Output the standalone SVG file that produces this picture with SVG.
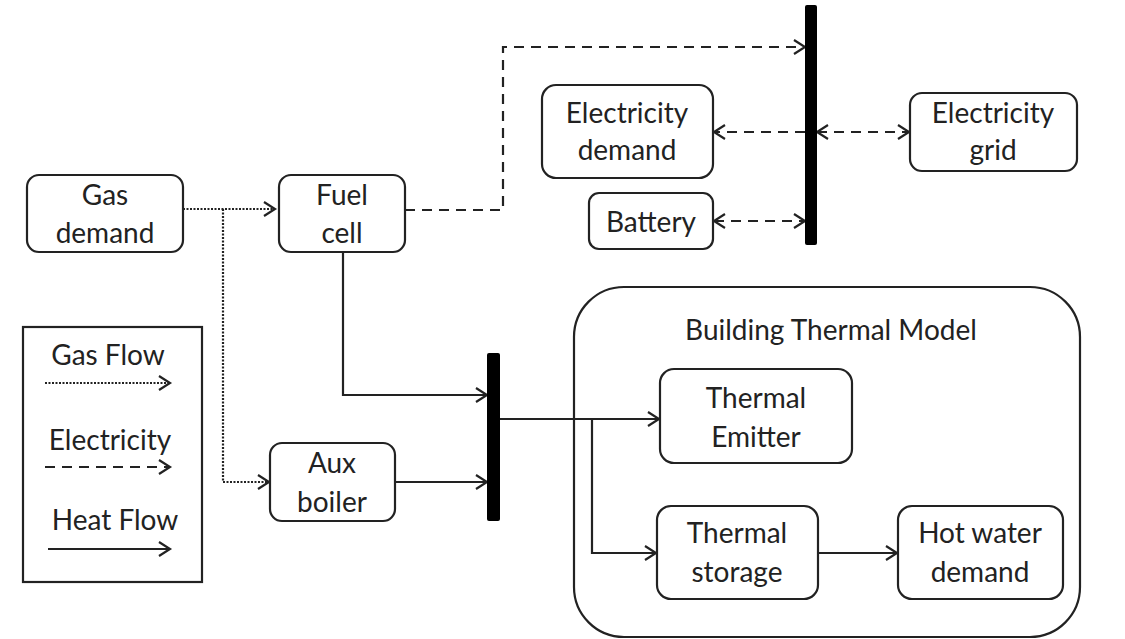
<svg xmlns="http://www.w3.org/2000/svg" width="1125" height="639" viewBox="0 0 1125 639">
<defs>
<style>
.box{fill:#fff;stroke:#222;stroke-width:2.2}
.t{font-family:Lato,"Open Sans","Liberation Sans",sans-serif;font-size:28px;fill:#222;text-anchor:middle}
.ln{fill:none;stroke:#222;stroke-width:2.2}
.gas{stroke-dasharray:2,1.5}
.el{stroke-dasharray:10,7}
.bus{fill:#000}
</style>
<marker id="ah" markerUnits="userSpaceOnUse" markerWidth="16" markerHeight="18" refX="13" refY="9" orient="auto-start-reverse">
<path d="M2,2 L13,9 L2,16" fill="none" stroke="#222" stroke-width="2.2"/>
</marker>
</defs>
<rect width="1125" height="639" fill="#fff"/>

<g id="building">
<rect class="box" x="574" y="287" width="506" height="350" rx="50"/>
<text class="t" x="831" y="340">Building Thermal Model</text>
</g>

<g id="connectors">
<path class="ln gas" d="M183,209 L275,209" marker-end="url(#ah)"/>
<path class="ln gas" d="M223,209 L223,482 L269,482" marker-end="url(#ah)"/>
<path class="ln el" d="M405,210 L503,210 L503,47 L805,47" marker-end="url(#ah)"/>
<path class="ln el" d="M805,132 L714,132" marker-end="url(#ah)"/>
<path class="ln el" d="M817,132 L909,132" marker-start="url(#ah)" marker-end="url(#ah)"/>
<path class="ln el" d="M714,221 L805,221" marker-start="url(#ah)" marker-end="url(#ah)"/>
<path class="ln" d="M343,252 L343,395 L487,395" marker-end="url(#ah)"/>
<path class="ln" d="M395,482 L487,482" marker-end="url(#ah)"/>
<path class="ln" d="M500,419 L659,419" marker-end="url(#ah)"/>
<path class="ln" d="M592,419 L592,553 L656,553" marker-end="url(#ah)"/>
<path class="ln" d="M818,553 L897,553" marker-end="url(#ah)"/>
</g>

<g id="elec-bus"><rect class="bus" x="805" y="5" width="12" height="240" rx="2"/></g>
<g id="heat-bus"><rect class="bus" x="487" y="353" width="13" height="168" rx="2"/></g>

<g id="gas-demand">
<rect class="box" x="27" y="175" width="156" height="77" rx="12"/>
<text class="t" x="105" y="205">Gas</text>
<text class="t" x="105" y="243">demand</text>
</g>
<g id="fuel-cell">
<rect class="box" x="279" y="175" width="126" height="77" rx="12"/>
<text class="t" x="342" y="205">Fuel</text>
<text class="t" x="342" y="243">cell</text>
</g>
<g id="aux-boiler">
<rect class="box" x="270" y="443" width="125" height="78" rx="12"/>
<text class="t" x="332" y="473">Aux</text>
<text class="t" x="332" y="512">boiler</text>
</g>
<g id="electricity-demand">
<rect class="box" x="542" y="85" width="171" height="93" rx="14"/>
<text class="t" x="627" y="123">Electricity</text>
<text class="t" x="627" y="160">demand</text>
</g>
<g id="battery">
<rect class="box" x="589" y="193" width="124" height="56" rx="10"/>
<text class="t" x="651" y="232">Battery</text>
</g>
<g id="electricity-grid">
<rect class="box" x="910" y="93" width="167" height="78" rx="12"/>
<text class="t" x="993" y="123">Electricity</text>
<text class="t" x="993" y="160">grid</text>
</g>
<g id="thermal-emitter">
<rect class="box" x="660" y="369" width="192" height="94" rx="14"/>
<text class="t" x="756" y="408">Thermal</text>
<text class="t" x="756" y="447">Emitter</text>
</g>
<g id="thermal-storage">
<rect class="box" x="657" y="506" width="161" height="93" rx="14"/>
<text class="t" x="737" y="543">Thermal</text>
<text class="t" x="737" y="582">storage</text>
</g>
<g id="hot-water-demand">
<rect class="box" x="898" y="506" width="165" height="93" rx="14"/>
<text class="t" x="980" y="543">Hot water</text>
<text class="t" x="980" y="582">demand</text>
</g>

<g id="legend">
<rect class="box" x="23" y="327" width="179" height="255"/>
<text class="t" x="108" y="365">Gas Flow</text>
<path class="ln gas" d="M45,383 L170,383" marker-end="url(#ah)"/>
<text class="t" x="110" y="450">Electricity</text>
<path class="ln el" d="M45,467 L170,467" marker-end="url(#ah)"/>
<text class="t" x="115" y="530">Heat Flow</text>
<path class="ln" d="M48,549 L170,549" marker-end="url(#ah)"/>
</g>
</svg>
